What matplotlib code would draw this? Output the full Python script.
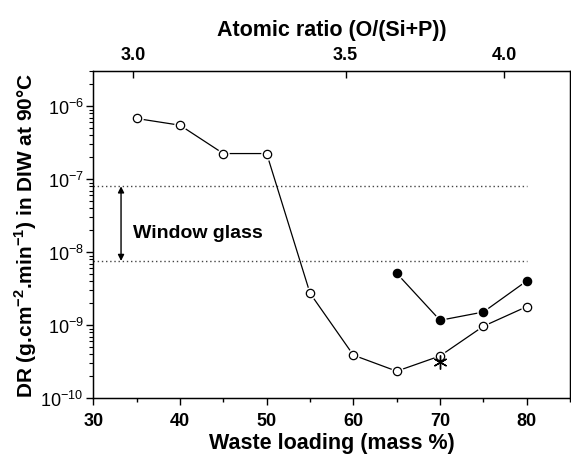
import numpy as np
import matplotlib
matplotlib.use('Agg')
import matplotlib.pyplot as plt

plt.rcParams['font.family'] = ['Liberation Sans', 'DejaVu Sans']
plt.rcParams['mathtext.fontset'] = 'custom'
plt.rcParams['mathtext.rm'] = 'Liberation Sans'
plt.rcParams['mathtext.bf'] = 'Liberation Sans:bold'

# dissolution rate vs waste loading
wl_open = [35, 40, 45, 50, 55, 60, 65, 70, 75, 80]
dr_open = [6.8e-7, 5.5e-7, 2.25e-7, 2.25e-7, 2.75e-9, 3.9e-10, 2.35e-10, 3.8e-10, 9.7e-10, 1.8e-9]
wl_fill = [65, 70, 75, 80]
dr_fill = [5.15e-9, 1.17e-9, 1.52e-9, 4.05e-9]
wl_star = [70]
dr_star = [3.1e-10]

# window glass band
window_hi = 8.0e-8
window_lo = 7.6e-9

# top axis: atomic ratio ticks placed on waste loading scale
ratio_pos = [34.6, 59.1, 77.4]
ratio_lbl = ['3.0', '3.5', '4.0']

fig = plt.figure(figsize=(5.71, 4.6), dpi=100)
ax = fig.add_axes([0.1634, 0.132, 0.835, 0.711])

ax.plot([30, 80], [window_hi, window_hi], ls=(0, (1, 2)), color='#444444', lw=1)
ax.plot([30, 80], [window_lo, window_lo], ls=(0, (1, 2)), color='#444444', lw=1)
ax.annotate('', xy=(33.2, window_hi), xytext=(33.2, window_lo),
            arrowprops=dict(arrowstyle='<|-|>', color='black', lw=1,
                            mutation_scale=9, shrinkA=0, shrinkB=0))
ax.text(34.6, 10**-7.73, 'Window glass', fontsize=14, fontweight='bold',
        va='center', ha='left')

# lines, white gap discs, then markers
ax.plot(wl_open, dr_open, '-', color='black', lw=0.9, zorder=2)
ax.plot(wl_fill, dr_fill, '-', color='black', lw=0.9, zorder=2)
ax.plot(wl_open, dr_open, 'o', ms=9, mfc='white', mec='none', zorder=3)
ax.plot(wl_fill, dr_fill, 'o', ms=9, mfc='white', mec='none', zorder=3)
ax.plot(wl_open, dr_open, 'o', ms=6, mfc='white', mec='black', mew=0.9, zorder=4)
ax.plot(wl_fill, dr_fill, 'o', ms=6, mfc='black', mec='black', mew=0.9, zorder=4)
ax.plot(wl_star, dr_star, marker=(6, 2, 0), ms=10, color='black', mew=1, ls='none', zorder=5)

ax.set_yscale('log')
ax.set_xlim(30, 85)
ax.set_ylim(1e-10, 10**-5.52)
ax.set_xticks([30, 40, 50, 60, 70, 80])
ax.set_xticks([35, 45, 55, 65, 75, 85], minor=True)
ax.set_yticks([1e-10, 1e-9, 1e-8, 1e-7, 1e-6])
ax.tick_params(axis='x', which='major', direction='out', length=5, width=1,
               labelsize=13, pad=5)
ax.tick_params(axis='x', which='minor', direction='out', length=3, width=1)
ax.tick_params(axis='y', which='major', direction='out', length=5, width=1,
               labelsize=13, pad=2)
ax.tick_params(axis='y', which='minor', direction='out', length=3, width=0.8)
for t in ax.get_xticklabels():
    t.set_fontweight('bold')
for s in ax.spines.values():
    s.set_linewidth(1)

ax.set_xlabel('Waste loading (mass %)', fontsize=15.5, fontweight='bold', labelpad=2)
ax.set_ylabel('DR (g.cm$^{\\mathbf{-2}}$.min$^{\\mathbf{-1}}$) in DIW at 90\u00b0C',
              fontsize=15, fontweight='bold', labelpad=1)

top = ax.twiny()
top.set_xlim(ax.get_xlim())
top.set_xticks(ratio_pos)
top.set_xticklabels(ratio_lbl, fontweight='bold', fontsize=13)
top.tick_params(axis='x', direction='in', length=5, width=1, pad=6)
top.set_xlabel('Atomic ratio (O/(Si+P))', fontsize=15.5, fontweight='bold', labelpad=8)

fig.savefig('out.png', dpi=100)
